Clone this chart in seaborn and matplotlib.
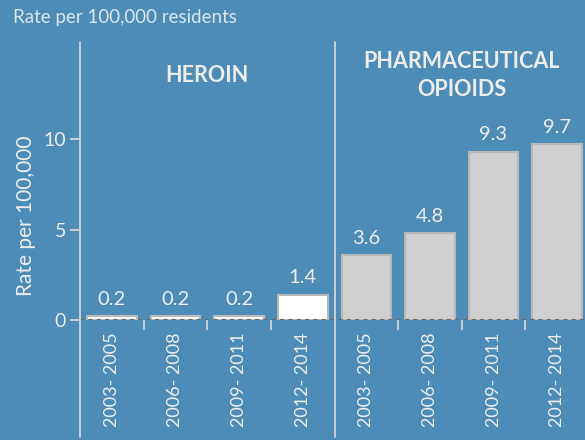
import numpy as np
import pandas as pd
import seaborn as sns
import matplotlib.pyplot as plt

sns.set_style('white')
plt.rcParams['font.family'] = ['Lato', 'DejaVu Sans']

# Data
periods = ["2003- 2005", "2006- 2008", "2009- 2011", "2012- 2014"]
heroin_rates = [0.2, 0.2, 0.2, 1.4]
opioid_rates = [3.6, 4.8, 9.3, 9.7]
group_titles = ["HEROIN", "PHARMACEUTICAL\nOPIOIDS"]

bg = "#4e8cb8"
txt = "#eeeeee"
line_col = "#d4d4d4"

df = pd.DataFrame({
    'slot': [f"h{i}" for i in range(4)] + [f"p{i}" for i in range(4)],
    'period': periods + periods,
    'rate': heroin_rates + opioid_rates,
    'group': ["Heroin"] * 4 + ["Opioids"] * 4,
})

fig = plt.figure(figsize=(5.85, 4.4), dpi=100, facecolor=bg)
ax = fig.add_axes([0.1368, 0.2727, 0.870, 0.6318])
ax.set_facecolor(bg)

sns.barplot(data=df, x='slot', y='rate', hue='group',
            palette={"Heroin": "#ffffff", "Opioids": "#d0d0d0"},
            dodge=False, width=0.78, legend=False, ax=ax,
            edgecolor="#b8b8b8", linewidth=1.5)

ax.set_ylim(0, 15.36)
ax.set_xlim(-0.5, 7.5)

# value labels
for bar, val in zip(ax.patches, df['rate']):
    ax.annotate(f"{val:.1f}", (bar.get_x() + bar.get_width() / 2, bar.get_height()),
                xytext=(0, 6), textcoords='offset points',
                ha='center', va='bottom', fontsize=14.5, color=txt)

# dashed baseline
ax.axhline(0, color="#6a6a6a", linestyle=(0, (2, 2)), linewidth=1.5, zorder=5)

# spines
for s in ['top', 'right', 'bottom', 'left']:
    ax.spines[s].set_visible(False)

# vertical lines: left axis and group separator, extended below the axis
for xv in [-0.5, 3.5]:
    ax.plot([xv, xv], [-0.42, 1.0], transform=ax.get_xaxis_transform(),
            color=line_col, linewidth=1.3, clip_on=False, zorder=6)

# y ticks
ax.set_yticks([0, 5, 10])
ax.tick_params(axis='y', left=True, length=7, width=1.3, color=line_col,
               labelcolor=txt, labelsize=14, pad=3)

# x ticks: labels at centers, small ticks at boundaries
ax.set_xticks(range(8))
ax.set_xticklabels(periods + periods, rotation=90, fontsize=13, color=txt)
ax.tick_params(axis='x', bottom=False, length=0, pad=9)
ax.set_xticks([0.5, 1.5, 2.5, 4.5, 5.5, 6.5], minor=True)
ax.tick_params(axis='x', which='minor', bottom=True, length=7, width=1.3,
               color=line_col)

ax.set_xlabel("")
ax.set_ylabel("")
fig.text(0.045, 0.51, "Rate per 100,000", rotation=90, ha='center', va='center',
         fontsize=15, color=txt)

# group headers
ax.text(1.5, 0.88, group_titles[0], transform=ax.get_xaxis_transform(),
        ha='center', va='center', fontsize=15.5, fontweight='bold', color=txt)
ax.text(5.5, 0.88, group_titles[1], transform=ax.get_xaxis_transform(),
        ha='center', va='center', fontsize=15.5, fontweight='bold', color=txt,
        linespacing=1.45)

fig.text(0.022, 0.96, "Rate per 100,000 residents", ha='left', va='center',
         fontsize=13.5, color="#dde6ee")

fig.savefig("out.png", dpi=100, facecolor=bg)
